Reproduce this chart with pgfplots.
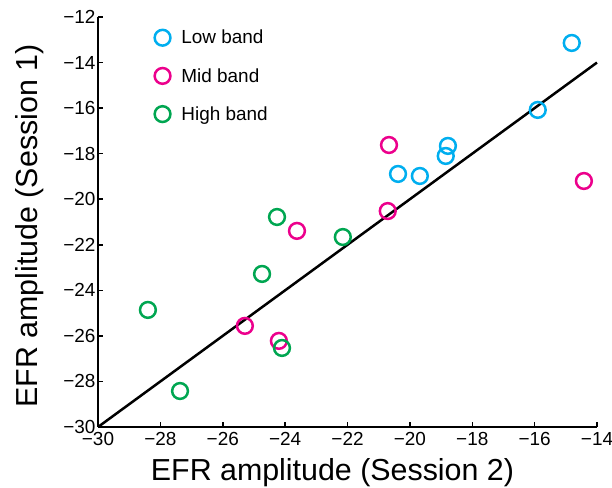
\documentclass[border=0pt]{standalone}
\usepackage{pgfplots}
\pgfplotsset{compat=1.18}
\usepackage{fontspec}
\setmainfont{Liberation Sans}
\definecolor{lowc}{RGB}{0,174,239}
\definecolor{midc}{RGB}{236,0,140}
\definecolor{highc}{RGB}{0,166,81}
\begin{document}
\begin{tikzpicture}[x=1bp,y=1bp]
\path[use as bounding box] (-98,-61) rectangle (514,427);
\begin{axis}[
  at={(0,0)}, anchor=south west,
  scale only axis, width=499bp, height=410bp,
  xmin=-30, xmax=-14, ymin=-30, ymax=-12,
  xtick={-30,-28,...,-14}, ytick={-30,-28,...,-12},
  xticklabels={−30,−28,−26,−24,−22,−20,−18,−16,−14},
  yticklabels={−30,−28,−26,−24,−22,−20,−18,−16,−14,−12},
  axis x line*=bottom, axis y line*=left,
  tick align=inside, major tick length=5bp,
  axis line style={line width=2.5bp, black, -},
  tick style={line width=1.5bp, black},
  tick label style={font=\fontsize{19}{19}\selectfont},
  xticklabel style={yshift=-1.5bp},
  yticklabel style={xshift=1bp},
  label style={font=\fontsize{30.5}{30.5}\selectfont},
  xlabel={EFR amplitude (Session 2)},
  ylabel={EFR amplitude (Session 1)},
  xlabel style={yshift=-6bp, xshift=-15bp},
  ylabel style={yshift=13bp, xshift=-4bp},
  clip=false,
  legend style={draw=none, fill=none, at={(axis cs:-28.19,-12.48)}, anchor=north west,
    font=\fontsize{19}{19}\selectfont, row sep=19bp, inner sep=0pt},
  legend cell align=left,
]
\addplot[black, line width=2.5bp, forget plot] coordinates {(-30,-30) (-14,-14)};
\addplot[only marks, mark=o, mark size=7.9bp, lowc, line width=2.5bp] coordinates {
(-14.81,-13.14) (-15.90,-16.08) (-18.78,-17.66) (-18.85,-18.10) (-19.68,-18.98) (-20.38,-18.89)};
\addlegendentry{\hspace*{9bp}Low band}
\addplot[only marks, mark=o, mark size=7.9bp, midc, line width=2.5bp] coordinates {
(-20.67,-17.62) (-14.42,-19.2) (-20.71,-20.52) (-23.62,-21.39) (-25.29,-25.56) (-24.2,-26.22)};
\addlegendentry{\hspace*{9bp}Mid band}
\addplot[only marks, mark=o, mark size=7.9bp, highc, line width=2.5bp] coordinates {
(-22.15,-21.66) (-24.26,-20.78) (-24.74,-23.28) (-28.4,-24.86) (-24.1,-26.53) (-27.37,-28.42)};
\addlegendentry{\hspace*{9bp}High band}
\end{axis}
\end{tikzpicture}
\end{document}
